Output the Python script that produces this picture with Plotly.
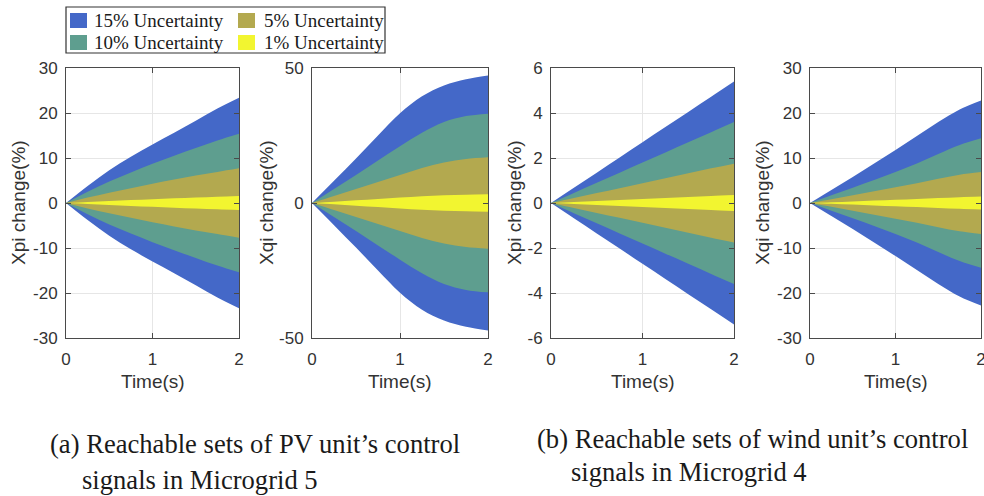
import plotly.graph_objects as go

W, H = 984, 496

# ---------------- data ----------------
time_s = [0, 0.25, 0.5, 0.75, 1.0, 1.25, 1.5, 1.75, 2.0]
levels = ["15% Uncertainty", "10% Uncertainty", "5% Uncertainty", "1% Uncertainty"]
colors = ["#4468C8", "#5E9E8F", "#B3A94F", "#F2F530"]

# (a) PV unit, Microgrid 5 - Xpi (upper bounds; sets are symmetric about 0)
pv_xpi_15 = [0, 3.8, 7.3, 10.3, 13.0, 15.6, 18.3, 21.0, 23.4]
pv_xpi_10 = [0, 2.5, 4.8, 6.8, 8.7, 10.5, 12.2, 13.9, 15.4]
pv_xpi_5 = [0, 1.2, 2.3, 3.3, 4.3, 5.2, 6.1, 6.9, 7.7]
pv_xpi_1 = [0, 0.22, 0.44, 0.65, 0.85, 1.04, 1.22, 1.40, 1.55]

# (a) PV unit, Microgrid 5 - Xqi
pv_xqi_15 = [0, 8.2, 16.5, 25.0, 33.2, 39.5, 43.5, 45.8, 47.2]
pv_xqi_10 = [0, 5.2, 10.4, 15.7, 21.0, 26.0, 30.0, 32.2, 33.1]
pv_xqi_5 = [0, 2.6, 5.2, 7.8, 10.4, 13.0, 15.0, 16.3, 16.9]
pv_xqi_1 = [0, 0.5, 1.0, 1.5, 2.0, 2.5, 2.9, 3.1, 3.2]

# (b) wind unit, Microgrid 4 - Xpi
wd_xpi_15 = [0, 0.675, 1.35, 2.025, 2.7, 3.375, 4.05, 4.725, 5.4]
wd_xpi_10 = [0, 0.45, 0.9, 1.35, 1.8, 2.25, 2.7, 3.15, 3.6]
wd_xpi_5 = [0, 0.22, 0.44, 0.66, 0.88, 1.1, 1.32, 1.54, 1.75]
wd_xpi_1 = [0, 0.045, 0.09, 0.135, 0.18, 0.225, 0.27, 0.315, 0.36]

# (b) wind unit, Microgrid 4 - Xqi
wd_xqi_15 = [0, 2.9, 5.8, 8.8, 11.8, 14.9, 18.0, 20.8, 22.8]
wd_xqi_10 = [0, 1.7, 3.4, 5.1, 6.9, 8.8, 10.9, 12.9, 14.4]
wd_xqi_5 = [0, 0.85, 1.7, 2.6, 3.5, 4.4, 5.4, 6.3, 6.9]
wd_xqi_1 = [0, 0.18, 0.36, 0.54, 0.72, 0.9, 1.1, 1.3, 1.45]

y_titles = ["Xpi change(%)", "Xqi change(%)", "Xpi change(%)", "Xqi change(%)"]
y_ranges = [[-30, 30], [-50, 50], [-6, 6], [-30, 30]]
y_ticks = [[-30, -20, -10, 0, 10, 20, 30], [-50, 0, 50], [-6, -4, -2, 0, 2, 4, 6],
           [-30, -20, -10, 0, 10, 20, 30]]
y_ticktext = [["-30", "-20", "-10", "0", "10", "20", "30"], ["-50", "0", "50"],
              ["-6", "-4", "-2", "0", "2", "4", "6"], ["-30", "-20", "-10", "0", "10", "20", "30"]]
x_ticks = [0, 1, 2]
x_ticktext = ["0", "1", "2"]
captions = [["(a) Reachable sets of PV unit’s control", "signals in Microgrid 5"],
            ["(b) Reachable sets of wind unit’s control", "signals in Microgrid 4"]]

panels = [
    [pv_xpi_15, pv_xpi_10, pv_xpi_5, pv_xpi_1],
    [pv_xqi_15, pv_xqi_10, pv_xqi_5, pv_xqi_1],
    [wd_xpi_15, wd_xpi_10, wd_xpi_5, wd_xpi_1],
    [wd_xqi_15, wd_xqi_10, wd_xqi_5, wd_xqi_1],
]

# ---------------- layout helpers ----------------
def X(px):
    return px / W

def Y(py):
    return 1 - py / H

plot_x = [(66, 239), (312, 488), (551, 734), (810, 981)]
plot_top, plot_bot = 68, 338
title_x = [18, 266, 514, 762]

fig = go.Figure()

for i, bands in enumerate(panels):
    xa = "x" if i == 0 else f"x{i+1}"
    ya = "y" if i == 0 else f"y{i+1}"
    for name, col, up in zip(levels, colors, bands):
        lo = [-v for v in up]
        fig.add_trace(go.Scatter(x=time_s, y=lo, mode="lines", line=dict(width=0, shape="spline", smoothing=1.0),
                                 xaxis=xa, yaxis=ya, showlegend=False, hoverinfo="skip"))
        fig.add_trace(go.Scatter(x=time_s, y=up, mode="lines", line=dict(width=0, shape="spline", smoothing=1.0),
                                 fill="tonexty", fillcolor=col, xaxis=xa, yaxis=ya,
                                 name=name, showlegend=False))

axis_common = dict(showline=True, linecolor="#4a4a4a", linewidth=1, mirror="ticks",
                   ticks="inside", ticklen=5, tickcolor="#4a4a4a", showgrid=True,
                   gridcolor="#e6e6e6", gridwidth=1, zeroline=False, automargin=False,
                   ticklabeloverflow="allow",
                   tickfont=dict(family="Liberation Sans, Arial", size=17, color="#333333"))

layout = dict(template="none", width=W, height=H, autosize=False,
              margin=dict(l=0, r=0, t=0, b=0, pad=0, autoexpand=False),
              paper_bgcolor="white", plot_bgcolor="white", showlegend=False)

for i in range(4):
    sx = "" if i == 0 else str(i + 1)
    x0, x1 = plot_x[i]
    layout[f"xaxis{sx}"] = dict(axis_common, domain=[X(x0), X(x1)], range=[0, 2],
                                tickvals=x_ticks, ticktext=x_ticktext, anchor=f"y{sx}",
                                ticklabelstandoff=6)
    layout[f"yaxis{sx}"] = dict(axis_common, domain=[Y(plot_bot), Y(plot_top)], range=y_ranges[i],
                                tickvals=y_ticks[i], ticktext=y_ticktext[i], anchor=f"x{sx}",
                                ticklabelstandoff=4)

fig.update_layout(**layout)

ann = []
for i in range(4):
    x0, x1 = plot_x[i]
    ann.append(dict(x=X(title_x[i]), y=Y((plot_top + plot_bot) / 2), xref="paper", yref="paper",
                    text=y_titles[i], textangle=-90, showarrow=False, xanchor="center", yanchor="middle",
                    font=dict(family="Liberation Sans, Arial", size=19, color="#333333")))
    ann.append(dict(x=X((x0 + x1) / 2), y=Y(381), xref="paper", yref="paper", text="Time(s)",
                    showarrow=False, xanchor="center", yanchor="middle",
                    font=dict(family="Liberation Sans, Arial", size=19, color="#333333")))

cap_pos = [[(48, 444), (80, 480)], [(535, 439), (569, 472)]]
for c in range(2):
    for ln in range(2):
        px, py = cap_pos[c][ln]
        ann.append(dict(x=X(px), y=Y(py), xref="paper", yref="paper", text=captions[c][ln],
                        showarrow=False, xanchor="left", yanchor="middle",
                        font=dict(family="Liberation Serif, Times New Roman", size=26.6, color="#1a1a1a")))

# legend (manual, 2x2)
shapes = [dict(type="rect", xref="paper", yref="paper", x0=X(66), x1=X(385), y0=Y(53), y1=Y(7),
               line=dict(color="#333333", width=1.2), fillcolor="white")]
leg_cells = [(0, 0), (1, 0), (0, 1), (1, 1)]  # (row, col) for 15,10,5,1
sw_x = [70, 238]
tx_x = [92, 262]
row_y = [20.5, 42.5]
for k, (r, c) in enumerate(leg_cells):
    shapes.append(dict(type="rect", xref="paper", yref="paper", x0=X(sw_x[c]), x1=X(sw_x[c] + 17),
                       y0=Y(row_y[r] + 7.5), y1=Y(row_y[r] - 7.5), line=dict(width=0), fillcolor=colors[k]))
    ann.append(dict(x=X(tx_x[c]), y=Y(row_y[r]), xref="paper", yref="paper", text=levels[k],
                    showarrow=False, xanchor="left", yanchor="middle",
                    font=dict(family="Liberation Serif, Times New Roman", size=19, color="#1a1a1a")))

fig.update_layout(annotations=ann, shapes=shapes)
fig.write_html("out.html")
